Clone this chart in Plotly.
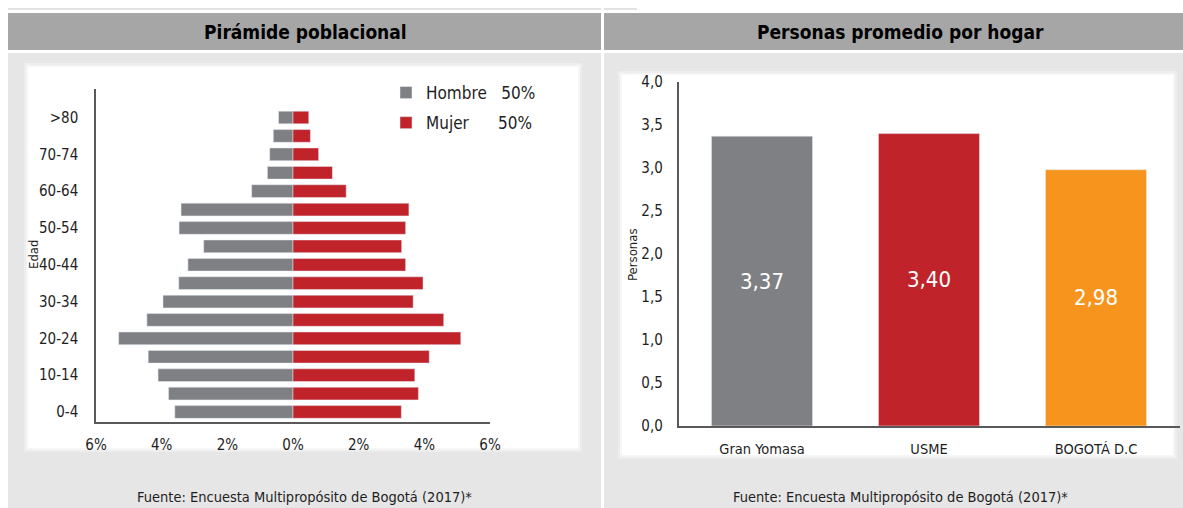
"""Pirámide poblacional + personas promedio por hogar (Usme / Gran Yomasa)."""
import plotly.graph_objects as go

# Pirámide: grupos de edad (de abajo hacia arriba) y % por sexo
EDADES = ["0-4", "5-9", "10-14", "15-19", "20-24", "25-29", "30-34", "35-39",
          "40-44", "45-49", "50-54", "55-59", "60-64", "65-69", "70-74", "75-79", ">80"]
HOMBRES = [3.60, 3.79, 4.11, 4.41, 5.31, 4.45, 3.96, 3.48,
           3.20, 2.72, 3.47, 3.41, 1.26, 0.78, 0.71, 0.60, 0.44]
MUJERES = [3.30, 3.82, 3.71, 4.15, 5.11, 4.59, 3.66, 3.96,
           3.43, 3.31, 3.43, 3.53, 1.62, 1.20, 0.78, 0.53, 0.48]
ETIQUETAS_EDAD = ["0-4", "10-14", "20-24", "30-34", "40-44", "50-54", "60-64", "70-74", ">80"]
TICKS_PCT = [-6, -4, -2, 0, 2, 4, 6]
TICKS_PCT_TXT = ["6%", "4%", "2%", "0%", "2%", "4%", "6%"]

# Personas promedio por hogar
ZONAS = ["Gran Yomasa", "USME", "BOGOTÁ D.C"]
PERSONAS = [3.37, 3.40, 2.98]

GRIS = "#7f8083"
ROJO = "#c1232a"
NARANJA = "#f7941d"
TEXTO = "#1e1e1e"
FONT = "DejaVu Sans Condensed, sans-serif"
NB = "\u00a0"
W, H = 1183, 508


def px(x):
    return x / W


def py(y):
    return 1 - y / H


def rect(x0, y0, x1, y1, color):
    return dict(type="rect", xref="paper", yref="paper", layer="below",
                x0=px(x0), x1=px(x1), y0=py(y1), y1=py(y0),
                fillcolor=color, line=dict(width=0))


def nota(text, x, y, size, **kw):
    return dict(text=text, x=px(x), y=py(y), xref="paper", yref="paper",
                xanchor="center", yanchor="middle", showarrow=False,
                font=dict(size=size, color=kw.pop("color", TEXTO), family=FONT,
                          weight=kw.pop("weight", "normal")), **kw)


fig = go.Figure()
fig.add_trace(go.Bar(
    y=EDADES, x=[-v for v in HOMBRES], orientation="h", name="Hombre" + NB * 3 + "50%",
    marker=dict(color=GRIS), width=0.69, legendgroup="h",
    customdata=HOMBRES, hovertemplate="%{y}: %{customdata}%<extra></extra>",
    xaxis="x", yaxis="y"))
fig.add_trace(go.Bar(
    y=EDADES, x=MUJERES, orientation="h", name="Mujer" + NB * 6 + "50%",
    marker=dict(color=ROJO), width=0.69, legendgroup="m",
    hovertemplate="%{y}: %{x}%<extra></extra>", xaxis="x", yaxis="y"))
fig.add_trace(go.Bar(
    x=ZONAS, y=PERSONAS, marker=dict(color=[GRIS, ROJO, NARANJA]), width=0.605,
    texttemplate="%{y:.2f}", textposition="inside", insidetextanchor="middle",
    textfont=dict(color="white", size=22, family=FONT), showlegend=False,
    xaxis="x2", yaxis="y2"))

shapes = [
    dict(type="line", xref="paper", yref="paper", x0=px(8), x1=px(601), y0=py(9), y1=py(9),
         line=dict(color="#e2e2e2", width=2), layer="below"),
    dict(type="line", xref="paper", yref="paper", x0=px(604), x1=px(637), y0=py(9), y1=py(9),
         line=dict(color="#e2e2e2", width=2), layer="below"),
    rect(8, 13, 601, 50, "#a6a6a6"), rect(604, 13, 1183, 50, "#a6a6a6"),
    rect(8, 53, 601, 508, "#e6e6e6"), rect(604, 53, 1183, 508, "#e6e6e6"),
    # tarjetas blancas con sombra suave
    rect(24, 63, 582, 452, "#ededed"), rect(26, 65, 580, 450, "#f6f6f6"),
    rect(28, 67, 578, 448, "#ffffff"),
    rect(618, 71, 1177, 459, "#ededed"), rect(620, 73, 1175, 457, "#f6f6f6"),
    rect(622, 75, 1173, 455, "#ffffff"),
]

annotations = [
    nota("Pirámide poblacional", 305, 32, 19, color="#000000", weight="bold"),
    nota("Personas promedio por hogar", 900, 32, 19, color="#000000", weight="bold"),
    nota("Fuente: Encuesta Multipropósito de Bogotá (2017)*", 304, 497, 14.5),
    nota("Fuente: Encuesta Multipropósito de Bogotá (2017)*", 900, 497, 14.5),
    nota("Edad", 33, 255, 13, textangle=-90),
    nota("Personas", 632, 255, 13, textangle=-90),
]

AX = dict(showgrid=False, zeroline=False, showline=True, linecolor="#595959", linewidth=1.5,
          ticks="", fixedrange=True, tickfont=dict(size=15, color=TEXTO))

fig.update_layout(
    width=W, height=H, margin=dict(l=0, r=0, t=0, b=0, pad=0, autoexpand=False),
    paper_bgcolor="white", plot_bgcolor="rgba(0,0,0,0)",
    font=dict(family=FONT, color=TEXTO), separators=",.",
    barmode="overlay", shapes=shapes, annotations=annotations,
    xaxis=dict(AX, domain=[px(96), px(490)], range=[-6, 6], tickvals=TICKS_PCT,
               ticktext=TICKS_PCT_TXT, anchor="y", ticklabelstandoff=9),
    yaxis=dict(AX, domain=[py(421.7), py(89)], range=[-0.53, 17.55], type="category",
               categoryorder="array", categoryarray=EDADES, tickvals=ETIQUETAS_EDAD,
               anchor="x", ticklabelstandoff=13),
    xaxis2=dict(AX, domain=[px(678.5), px(1179.5)], range=[-0.5, 2.5], anchor="y2",
                tickfont=dict(size=14.5, color=TEXTO), ticklabelstandoff=9),
    yaxis2=dict(AX, domain=[py(426), py(82)], range=[0, 4], dtick=0.5, tickformat=".1f",
                anchor="x2", ticklabelstandoff=11),
    legend=dict(x=px(386), y=py(75), xanchor="left", yanchor="top", bgcolor="rgba(0,0,0,0)",
                font=dict(size=17, color=TEXTO), tracegroupgap=5, itemwidth=30),
)

# la página no debe añadir margen alrededor del gráfico
fig.write_html("out.html", config={"displayModeBar": False},
               post_script="document.body.style.margin='0';")
